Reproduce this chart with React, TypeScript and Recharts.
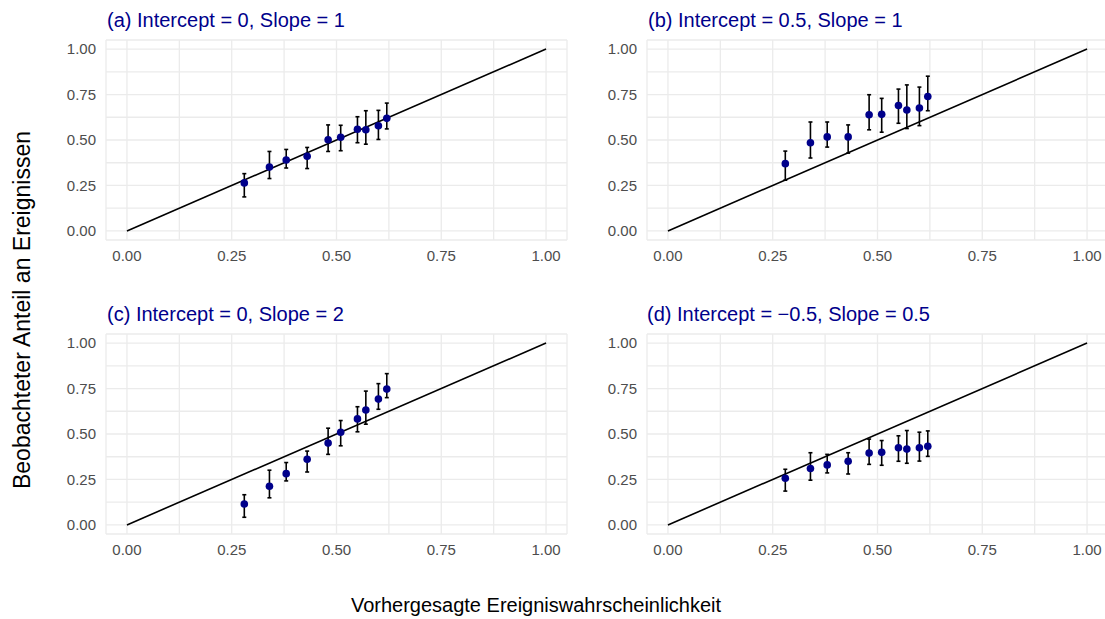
import React from 'react';
import { ScatterChart, Scatter, XAxis, YAxis, CartesianGrid, ErrorBar } from 'recharts';

const predicted = [0.28, 0.34, 0.38, 0.43, 0.48, 0.51, 0.55, 0.57, 0.60, 0.62];

const aObserved = [0.264, 0.351, 0.390, 0.411, 0.501, 0.515, 0.559, 0.556, 0.578, 0.619];
const aLower = [0.187, 0.288, 0.346, 0.343, 0.437, 0.441, 0.485, 0.477, 0.503, 0.561];
const aUpper = [0.315, 0.437, 0.448, 0.459, 0.583, 0.581, 0.628, 0.661, 0.663, 0.703];

const bObserved = [0.370, 0.485, 0.517, 0.517, 0.639, 0.641, 0.690, 0.665, 0.676, 0.739];
const bLower = [0.279, 0.401, 0.461, 0.428, 0.556, 0.543, 0.592, 0.563, 0.579, 0.661];
const bUpper = [0.439, 0.599, 0.599, 0.583, 0.749, 0.729, 0.780, 0.803, 0.791, 0.851];

const cObserved = [0.115, 0.213, 0.282, 0.361, 0.450, 0.510, 0.583, 0.632, 0.692, 0.747];
const cLower = [0.042, 0.149, 0.242, 0.291, 0.388, 0.435, 0.512, 0.554, 0.636, 0.700];
const cUpper = [0.166, 0.301, 0.343, 0.406, 0.532, 0.574, 0.650, 0.736, 0.777, 0.832];

const dObserved = [0.257, 0.310, 0.330, 0.350, 0.395, 0.399, 0.424, 0.417, 0.424, 0.433];
const dLower = [0.186, 0.246, 0.286, 0.280, 0.333, 0.328, 0.350, 0.339, 0.351, 0.377];
const dUpper = [0.306, 0.397, 0.388, 0.397, 0.472, 0.464, 0.490, 0.519, 0.510, 0.517];

const panelTitles = [
  '(a) Intercept = 0, Slope = 1',
  '(b) Intercept = 0.5, Slope = 1',
  '(c) Intercept = 0, Slope = 2',
  '(d) Intercept = \u22120.5, Slope = 0.5',
];

const gridTicks = [0, 0.125, 0.25, 0.375, 0.5, 0.625, 0.75, 0.875, 1];
const labelTicks = [0, 0.25, 0.5, 0.75, 1];
const diagonal = [{ x: 0, y: 0 }, { x: 1, y: 1 }];

const xTitle = 'Vorhergesagte Ereigniswahrscheinlichkeit';
const yTitle = 'Beobachteter Anteil an Ereignissen';

const FONT = '"Liberation Sans", Arial, Helvetica, sans-serif';

function buildRows(obs: number[], lo: number[], hi: number[]) {
  return predicted.map((x, i) => ({ x, y: obs[i], err: [obs[i] - lo[i], hi[i] - obs[i]] }));
}

const panels = [
  { rows: buildRows(aObserved, aLower, aUpper), left: 0, top: 0 },
  { rows: buildRows(bObserved, bLower, bUpper), left: 541, top: 0 },
  { rows: buildRows(cObserved, cLower, cUpper), left: 0, top: 294 },
  { rows: buildRows(dObserved, dLower, dUpper), left: 541, top: 294 },
];

const fmt = (v: number) => (labelTicks.some((t) => Math.abs(t - v) < 1e-9) ? v.toFixed(2) : '');

const tickStyle = { fontSize: 15, fill: '#4D4D4D', fontFamily: FONT };

function Panel({ rows }: { rows: any[] }) {
  return (
    <ScatterChart width={580} height={275} margin={{ top: 40, right: 13, bottom: 5, left: 46 }}>
      <CartesianGrid stroke="#EBEBEB" strokeWidth={1.3} />
      <XAxis
        type="number"
        dataKey="x"
        domain={[-0.05, 1.05]}
        ticks={gridTicks}
        tickFormatter={fmt}
        allowDataOverflow
        axisLine={false}
        tickLine={false}
        tickSize={6}
        tickMargin={4}
        height={30}
        tick={tickStyle}
        interval={0}
      />
      <YAxis
        type="number"
        dataKey="y"
        domain={[-0.05, 1.05]}
        ticks={gridTicks}
        tickFormatter={fmt}
        allowDataOverflow
        axisLine={false}
        tickLine={false}
        tickSize={6}
        tickMargin={4}
        width={60}
        tick={tickStyle}
        interval={0}
      />
      <Scatter
        data={diagonal}
        line={{ stroke: '#000000', strokeWidth: 1.6 }}
        shape={() => <g />}
        isAnimationActive={false}
      />
      <Scatter
        data={rows}
        fill="#00008B"
        isAnimationActive={false}
        shape={(p: any) => <circle cx={p.cx} cy={p.cy} r={3.8} fill="#00008B" />}
      >
        <ErrorBar dataKey="err" direction="y" width={2} stroke="#000000" strokeWidth={1.6} isAnimationActive={false} />
      </Scatter>
    </ScatterChart>
  );
}

export default function App() {
  return (
    <div
      style={{
        position: 'absolute',
        left: 0,
        top: 0,
        width: 1105,
        height: 619,
        overflow: 'hidden',
        background: '#ffffff',
        fontFamily: FONT,
      }}
    >
      {panels.map((p, i) => (
        <div key={i} style={{ position: 'absolute', left: p.left, top: p.top }}>
          <Panel rows={p.rows} />
        </div>
      ))}
      <svg
        width={1105}
        height={619}
        style={{ position: 'absolute', left: 0, top: 0, pointerEvents: 'none' }}
        fontFamily={FONT}
      >
        <text x={107} y={27} fontSize={20} fill="#00008B">{panelTitles[0]}</text>
        <text x={648} y={27} fontSize={20} fill="#00008B">{panelTitles[1]}</text>
        <text x={107} y={321} fontSize={20} fill="#00008B">{panelTitles[2]}</text>
        <text x={647} y={321} fontSize={20} fill="#00008B">{panelTitles[3]}</text>
        <text x={536} y={612} fontSize={20} fill="#000000" textAnchor="middle">{xTitle}</text>
        <text
          x={0}
          y={0}
          fontSize={23}
          fill="#000000"
          textAnchor="middle"
          transform="translate(30,310) rotate(-90)"
        >
          {yTitle}
        </text>
      </svg>
    </div>
  );
}
